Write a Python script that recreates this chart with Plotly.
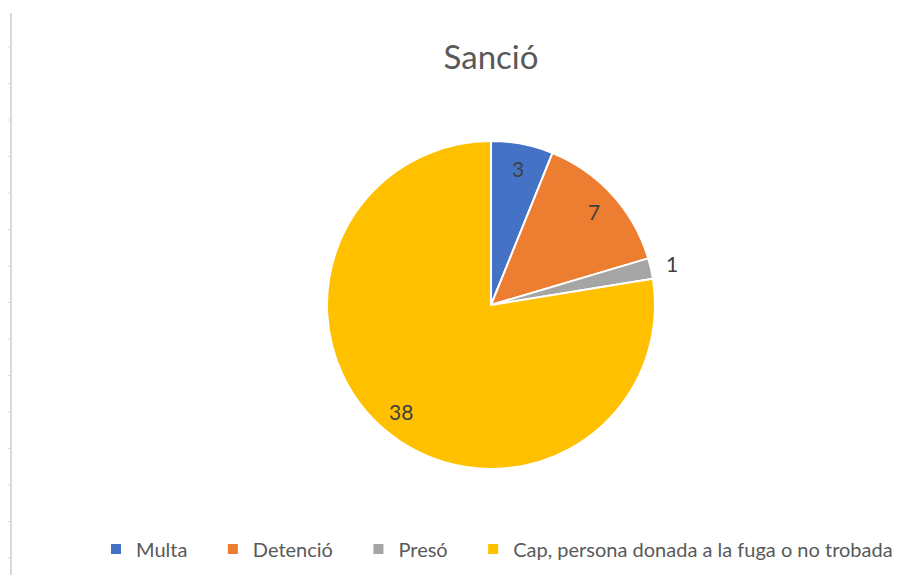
import math
import plotly.graph_objects as go

categories = ["Multa", "Detenció", "Presó", "Cap, persona donada a la fuga o no trobada"]
values = [3, 7, 1, 38]
colors = ["#4472C4", "#ED7D31", "#A5A5A5", "#FFC000"]
label_inside = [True, True, False, True]
title_text = "Sanció"

# figure size (page body has an 8px default margin)
W, H = 893, 567
FONT = "Lato, Open Sans, sans-serif"

# pie geometry in figure pixels
CX, CY, R = 483, 297, 164

# legend labels with a little trailing spacing between entries
legend_labels = [c + "\u00a0" * 4 if i < len(categories) - 1 else c
                 for i, c in enumerate(categories)]

fig = go.Figure(go.Pie(
    labels=legend_labels,
    values=values,
    sort=False,
    direction="clockwise",
    rotation=0,
    marker=dict(colors=colors, line=dict(color="white", width=2)),
    textinfo="none",
    customdata=categories,
    hovertemplate="%{customdata}: %{value}<extra></extra>",
    domain=dict(x=[(CX - R) / W, (CX + R) / W], y=[(H - CY - R) / H, (H - CY + R) / H]),
))

# data labels placed along each slice's mid-angle (derived from the values)
total = sum(values)
annotations = []
cum = 0
for v, inside in zip(values, label_inside):
    mid = (cum + v / 2) / total * 2 * math.pi
    cum += v
    rr = R * (0.85 if inside else 1.13)
    px = CX + rr * math.sin(mid)
    py = CY - rr * math.cos(mid)
    annotations.append(dict(x=px / W, y=1 - py / H, xref="paper", yref="paper",
                            text=str(v), showarrow=False, xanchor="center", yanchor="middle",
                            font=dict(family=FONT, size=21, color="#404040")))

# left sheet edge with tick marks (decoration)
shapes = [dict(type="line", xref="paper", yref="paper", x0=3 / W, x1=3 / W,
               y0=0, y1=(H - 5) / H, line=dict(color="#D9D9D9", width=2))]
for i in range(16):
    yy = 39 + i * 36.5
    if yy > H:
        break
    shapes.append(dict(type="line", xref="paper", yref="paper", x0=0, x1=3 / W,
                       y0=(H - yy) / H, y1=(H - yy) / H, line=dict(color="#D9D9D9", width=1)))

fig.update_layout(
    width=W, height=H,
    margin=dict(l=0, r=0, t=0, b=0, autoexpand=False),
    paper_bgcolor="white",
    plot_bgcolor="white",
    title=dict(text=title_text, x=483 / W, xanchor="center", y=1 - 49 / H, yanchor="middle",
               font=dict(family=FONT, size=33, color="#595959")),
    showlegend=True,
    legend=dict(orientation="h", x=489 / W, xanchor="center", y=1 - 541 / H, yanchor="middle",
                font=dict(family=FONT, size=20, color="#595959"), traceorder="normal",
                itemwidth=30),
    annotations=annotations,
    shapes=shapes,
)

fig.write_html("out.html")
